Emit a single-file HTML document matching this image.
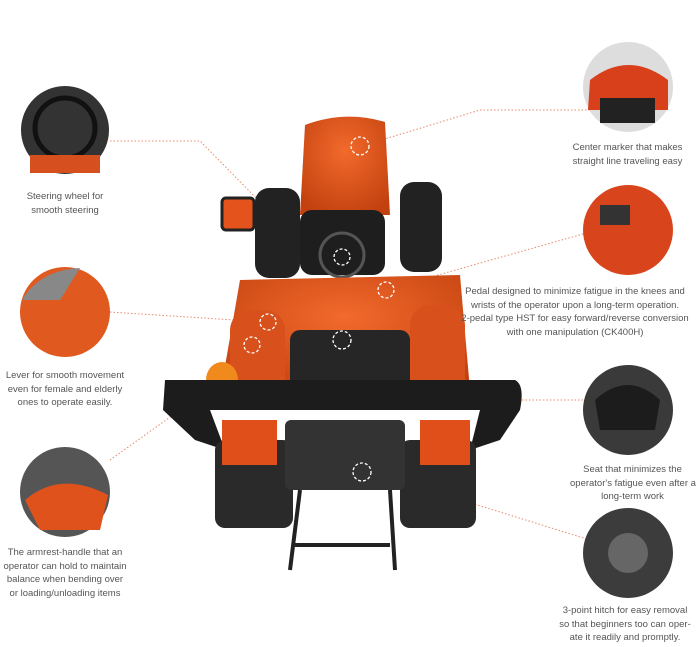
<!DOCTYPE html>
<html><head><style>
body{margin:0;background:#fff;width:700px;height:647px;overflow:hidden;position:relative;font-family:"Liberation Sans",sans-serif}
.t{position:absolute;font-size:9.5px;line-height:13.5px;color:#555;text-align:center;white-space:nowrap}
</style></head><body>
<svg width="700" height="647" style="position:absolute;left:0;top:0">
<defs>
<radialGradient id="o" cx="50%" cy="35%" r="70%"><stop offset="0" stop-color="#f26a2c"/><stop offset="1" stop-color="#c2410f"/></radialGradient>
</defs>
<g stroke="#e8896a" stroke-width="1" stroke-dasharray="1.5,2" fill="none">
<path d="M110 141 H200 L268 210"/>
<path d="M110 312 L265 322"/>
<path d="M110 460 L180 410"/>
<path d="M590 110 H480 L365 145"/>
<path d="M590 232 L385 290"/>
<path d="M590 400 H420 L345 335"/>
<path d="M590 540 L365 470"/>
</g>
<rect x="255" y="188" width="45" height="90" rx="14" fill="#222"/>
<rect x="400" y="182" width="42" height="90" rx="14" fill="#222"/>
<rect x="222" y="198" width="32" height="32" rx="4" fill="#e5531c" stroke="#222" stroke-width="3"/>
<path d="M305 125 Q345 110 385 122 L390 215 L300 215 Z" fill="url(#o)"/>
<rect x="300" y="210" width="85" height="65" rx="12" fill="#1e1e1e"/>
<circle cx="342" cy="255" r="22" fill="none" stroke="#555" stroke-width="3"/>
<path d="M240 280 L460 275 L470 390 L220 395 Z" fill="url(#o)"/>
<rect x="290" y="330" width="120" height="80" rx="10" fill="#262626"/>
<rect x="230" y="310" width="55" height="90" rx="20" fill="#d8501c"/>
<rect x="410" y="305" width="55" height="95" rx="20" fill="#d8501c"/>
<ellipse cx="222" cy="380" rx="16" ry="18" fill="#f08a1c"/>
<path d="M165 380 H515 Q525 385 520 410 L500 440 L470 450 L480 410 H210 L225 450 L195 440 L163 410 Z" fill="#1c1c1c"/>
<rect x="215" y="440" width="78" height="88" rx="10" fill="#2a2a2a"/>
<rect x="400" y="440" width="76" height="88" rx="10" fill="#2a2a2a"/>
<rect x="285" y="420" width="120" height="70" rx="6" fill="#333"/>
<rect x="222" y="420" width="55" height="45" fill="#e04e1a"/>
<rect x="420" y="420" width="50" height="45" fill="#e04e1a"/>
<g stroke="#222" stroke-width="4"><path d="M300 490 L290 570 M390 490 L395 570 M295 545 H390"/></g>
<g fill="none" stroke="#fff" stroke-width="1.3" stroke-dasharray="3,2">
<circle cx="360" cy="146" r="9"/><circle cx="342" cy="257" r="8"/><circle cx="268" cy="322" r="8"/><circle cx="386" cy="290" r="8"/><circle cx="342" cy="340" r="9"/><circle cx="362" cy="472" r="9"/><circle cx="252" cy="345" r="8"/>
</g>
<circle cx="65" cy="130" r="44" fill="#333"/><circle cx="65" cy="128" r="30" fill="none" stroke="#111" stroke-width="5"/><rect x="30" y="155" width="70" height="18" fill="#d5501e"/>
<circle cx="65" cy="312" r="45" fill="#e05a20"/><path d="M22 300 Q40 270 80 268 L60 300 Z" fill="#888"/>
<circle cx="65" cy="492" r="45" fill="#555"/><path d="M25 500 Q60 470 108 495 L100 530 L40 530 Z" fill="#e0521c"/>
<circle cx="628" cy="87" r="45" fill="#ddd"/><path d="M590 80 Q628 50 668 80 V110 H588 Z" fill="#d8401c"/><rect x="600" y="98" width="55" height="25" fill="#222"/>
<circle cx="628" cy="230" r="45" fill="#d8451c"/><rect x="600" y="205" width="30" height="20" fill="#333"/>
<circle cx="628" cy="410" r="45" fill="#3a3a3a"/><path d="M595 400 Q628 370 660 400 L655 430 H600 Z" fill="#1c1c1c"/>
<circle cx="628" cy="553" r="45" fill="#3c3c3c"/><circle cx="628" cy="553" r="20" fill="#666"/>
</svg>
<div class="t" style="left:15px;top:190px;width:100px">Steering wheel for<br>smooth steering</div>
<div class="t" style="left:0;top:369px;width:130px">Lever for smooth movement<br>even for female and elderly<br>ones to operate easily.</div>
<div class="t" style="left:0;top:546px;width:130px">The armrest-handle that an<br>operator can hold to maintain<br>balance when bending over<br>or loading/unloading items</div>
<div class="t" style="left:560px;top:141px;width:135px">Center marker that makes<br>straight line traveling easy</div>
<div class="t" style="left:455px;top:285px;width:240px">Pedal designed to minimize fatigue in the knees and<br>wrists of the operator upon a long-term operation.<br>2-pedal type HST for easy forward/reverse conversion<br>with one manipulation (CK400H)</div>
<div class="t" style="left:570px;top:463px;width:125px">Seat that minimizes the<br>operator's fatigue even after a<br>long-term work</div>
<div class="t" style="left:555px;top:604px;width:140px">3-point hitch for easy removal<br>so that beginners too can oper-<br>ate it readily and promptly.</div>
</body></html>
